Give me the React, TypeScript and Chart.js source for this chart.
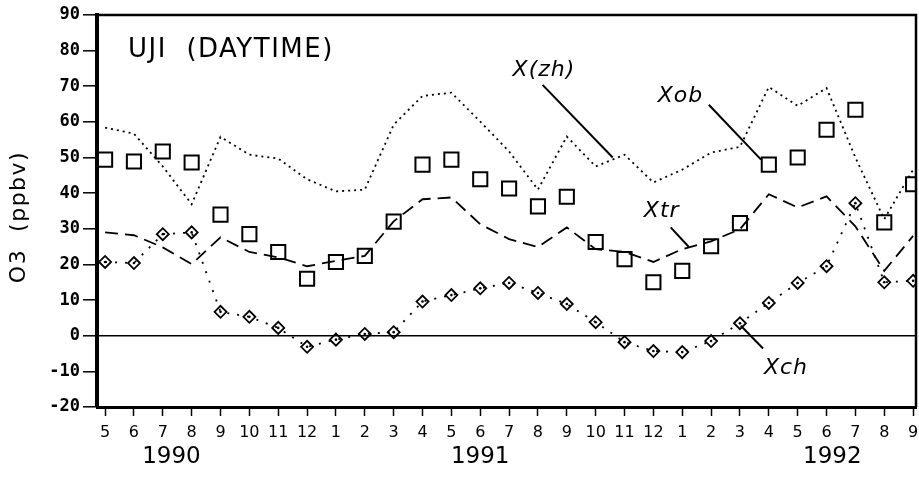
import React, { useEffect, useRef } from 'react';
import { Chart, registerables } from 'chart.js';

Chart.register(...registerables);

// ---- data ----
const monthLabels = ['5', '6', '7', '8', '9', '10', '11', '12', '1', '2', '3', '4', '5', '6', '7', '8', '9', '10', '11', '12', '1', '2', '3', '4', '5', '6', '7', '8', '9'];
const yearLabels = ['1990', '1991', '1992'];
const yearLabelAt = [2.3, 13, 25.2];

const xob = [49.4, 48.9, 51.7, 48.6, 34, 28.5, 23.5, 16, 20.7, 22.4, 32, 48, 49.4, 43.9, 41.3, 36.3, 39, 26.3, 21.5, 15, 18.2, 25.1, 31.6, 48, 50, 57.8, 63.4, 31.8, 42.5];
const xzh = [58.4, 56.7, 47.5, 36.9, 55.8, 50.8, 49.7, 43.9, 40.5, 41, 59.2, 67.3, 68.2, 60.1, 51.7, 41, 55.9, 47.5, 50.8, 43, 46.6, 51.4, 53, 69.8, 64.5, 69.5, 50, 32.7, 46.6];
const xtr = [29, 28.2, 24.8, 20.1, 27.6, 23.5, 22, 19.5, 21, 22.4, 32.1, 38.3, 38.8, 31.3, 27.1, 24.9, 30.4, 24.3, 23.5, 20.7, 24.3, 26.5, 29.9, 39.7, 36, 39.1, 30.7, 18.2, 28];
const xch = [20.7, 20.4, 28.5, 29, 6.7, 5.3, 2.2, -3.1, -1.1, 0.5, 1, 9.6, 11.4, 13.3, 14.8, 12, 8.9, 3.8, -1.8, -4.3, -4.6, -1.5, 3.5, 9.2, 14.8, 19.5, 37.2, 15, 15.4];

const yTicks = [-20, -10, 0, 10, 20, 30, 40, 50, 60, 70, 80, 90];

const TITLE = 'UJI  (DAYTIME)';
const Y_TITLE = 'O3  (ppbv)';

// annotation labels (text, label anchor, leader line) in data coordinates
const annText = ['X(zh)', 'Xob', 'Xtr', 'Xch'];
const annAt = [[14.12, 74.6], [19.15, 67.3], [18.67, 34.8], [22.83, -9]];
const leaderFrom = [[15.16, 70.4], [20.92, 64.8], [19.6, 30.4], [22.03, 2.8]];
const leaderTo = [[17.59, 50], [22.73, 49.4], [20.23, 24.9], [22.8, -3.6]];

const pts = (arr: number[]) => arr.map((v, i) => ({ x: i, y: v }));

const decor = {
  id: 'decor',
  afterDraw(chart: any) {
    const { ctx, chartArea: a, scales } = chart;
    const x = scales.x;
    const y = scales.y;
    ctx.save();
    ctx.strokeStyle = '#000';
    ctx.fillStyle = '#000';
    // top and right frame
    ctx.lineWidth = 2.5;
    ctx.beginPath();
    ctx.moveTo(a.left, a.top);
    ctx.lineTo(a.right, a.top);
    ctx.lineTo(a.right, a.bottom);
    ctx.stroke();
    // month tick labels
    ctx.font = '16px "DejaVu Sans"';
    ctx.textAlign = 'center';
    ctx.textBaseline = 'middle';
    x.ticks.forEach((t: any) => {
      const lbl = monthLabels[Math.round(t.value)];
      if (lbl !== undefined) ctx.fillText(lbl, x.getPixelForValue(t.value), a.bottom + 26);
    });
    // title inside plot
    ctx.font = '26px "DejaVu Sans"';
    (ctx as any).letterSpacing = '1.5px';
    ctx.textAlign = 'left';
    ctx.fillText(TITLE, a.left + 31, a.top + 35);
    // y axis title
    ctx.save();
    ctx.font = '22px "DejaVu Sans"';
    (ctx as any).letterSpacing = '1.5px';
    ctx.translate(19, (a.top + a.bottom) / 2 + 6);
    ctx.rotate(-Math.PI / 2);
    ctx.textAlign = 'center';
    ctx.fillText(Y_TITLE, 0, 0);
    ctx.restore();
    (ctx as any).letterSpacing = '0px';
    // year labels
    ctx.font = '23px "DejaVu Sans"';
    ctx.textAlign = 'center';
    yearLabels.forEach((t, i) => {
      ctx.fillText(t, x.getPixelForValue(yearLabelAt[i]), a.bottom + 50);
    });
    // annotations
    ctx.font = 'italic 22px "DejaVu Sans"';
    (ctx as any).letterSpacing = '1px';
    ctx.textAlign = 'left';
    ctx.lineWidth = 2;
    annText.forEach((t, i) => {
      ctx.fillText(t, x.getPixelForValue(annAt[i][0]), y.getPixelForValue(annAt[i][1]));
      ctx.beginPath();
      ctx.moveTo(x.getPixelForValue(leaderFrom[i][0]), y.getPixelForValue(leaderFrom[i][1]));
      ctx.lineTo(x.getPixelForValue(leaderTo[i][0]), y.getPixelForValue(leaderTo[i][1]));
      ctx.stroke();
    });
    ctx.restore();
  },
};

export default function App() {
  const ref = useRef<HTMLCanvasElement | null>(null);
  useEffect(() => {
    if (!ref.current) return;
    const chart = new Chart(ref.current, {
      type: 'line',
      data: {
        datasets: [
          {
            label: 'X(zh)',
            data: pts(xzh),
            borderColor: '#000',
            borderWidth: 1.8,
            borderDash: [2, 4],
            pointRadius: 0,
            fill: false,
          },
          {
            label: 'Xtr',
            data: pts(xtr),
            borderColor: '#000',
            borderWidth: 1.8,
            borderDash: [13, 7],
            pointRadius: 0,
            fill: false,
          },
          {
            label: 'Xch',
            data: pts(xch),
            borderColor: '#000',
            borderWidth: 1.8,
            borderDash: [2, 8],
            pointStyle: 'rectRot',
            pointRadius: 6,
            pointBorderWidth: 1.8,
            pointBorderColor: '#000',
            pointBackgroundColor: 'rgba(0,0,0,0)',
            fill: false,
          },
          {
            label: 'Xch centre',
            data: pts(xch),
            showLine: false,
            pointStyle: 'circle',
            pointRadius: 1.3,
            pointBorderWidth: 0,
            pointBackgroundColor: '#000',
          },
          {
            label: 'Xob',
            data: pts(xob),
            showLine: false,
            pointStyle: 'rect',
            pointRadius: 10,
            pointBorderWidth: 2,
            pointBorderColor: '#000',
            pointBackgroundColor: 'rgba(0,0,0,0)',
          },
        ],
      },
      options: {
        responsive: false,
        animation: false,
        layout: { autoPadding: false, padding: { left: 0, top: 15, right: 3, bottom: 0 } },
        plugins: { legend: { display: false }, tooltip: { enabled: false } },
        scales: {
          x: {
            type: 'linear',
            min: -0.28,
            max: 28.1,
            afterBuildTicks: (s: any) => {
              s.ticks = monthLabels.map((_, i) => ({ value: i }));
            },
            afterFit: (s: any) => {
              s.height = 71;
            },
            grid: { drawOnChartArea: false, tickLength: 9, tickWidth: 1.5, tickColor: '#000' },
            border: { color: '#000', width: 3 },
            ticks: { display: false, autoSkip: false, maxRotation: 0 },
          },
          y: {
            type: 'linear',
            min: -20,
            max: 90,
            afterBuildTicks: (s: any) => {
              s.ticks = yTicks.map((v) => ({ value: v }));
            },
            afterFit: (s: any) => {
              s.width = 97;
            },
            grid: {
              color: (c: any) => (c.tick && c.tick.value === 0 ? '#000' : 'rgba(0,0,0,0)'),
              lineWidth: 1.6,
              tickColor: '#000',
              tickLength: 14,
              tickWidth: 1.5,
            },
            border: { color: '#000', width: 4 },
            ticks: {
              padding: 3,
              color: '#000',
              font: { family: 'DejaVu Sans Mono', size: 17, weight: 'bold' },
              callback: (v: any) => String(v),
            },
          },
        },
      },
      plugins: [decor],
    } as any);
    return () => chart.destroy();
  }, []);
  return (
    <div style={{ position: 'absolute', left: 0, top: 0, width: 919, height: 478, background: '#fff' }}>
      <canvas ref={ref} width={919} height={478} />
    </div>
  );
}
